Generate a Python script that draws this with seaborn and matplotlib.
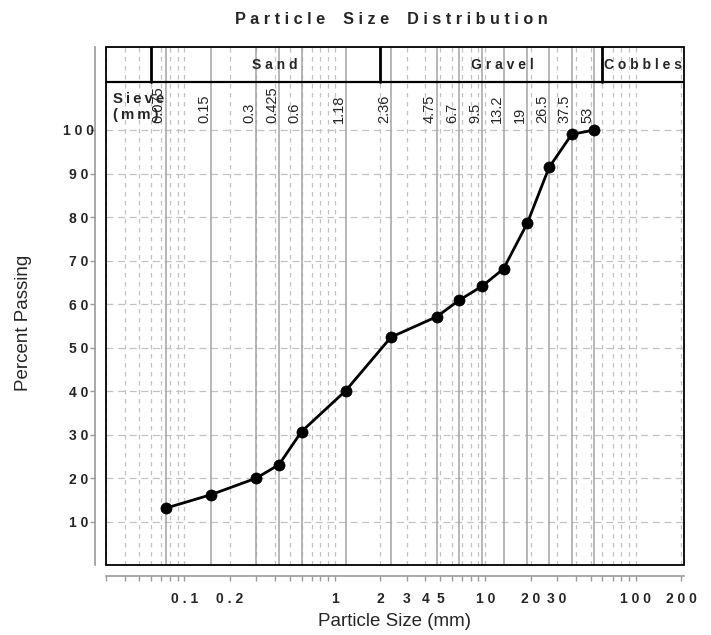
import numpy as np
import pandas as pd
import matplotlib
matplotlib.use("Agg")
import matplotlib.pyplot as plt
import matplotlib.ticker as mticker
import matplotlib.transforms as mtransforms
from matplotlib.patches import Rectangle
import seaborn as sns

# ---------------- data ----------------
sieve_mm = [0.075, 0.15, 0.3, 0.425, 0.6, 1.18, 2.36, 4.75, 6.7, 9.5, 13.2, 19, 26.5, 37.5, 53]
sieve_labels = ["0.075", "0.15", "0.3", "0.425", "0.6", "1.18", "2.36", "4.75",
                "6.7", "9.5", "13.2", "19", "26.5", "37.5", "53"]
percent_passing = [13.1, 16.2, 20.0, 23.1, 30.7, 40.1, 52.4, 57.1, 60.9, 64.1, 68.1,
                   78.6, 91.4, 99.0, 100.0]
soil_classes = ["Sand", "Gravel", "Cobbles"]
class_bounds = [0.06, 2, 60]
x_tick_values = [0.1, 0.2, 1, 2, 3, 4, 5, 10, 20, 30, 100, 200]
x_tick_labels = ["0.1", "0.2", "1", "2", "3", "4", "5", "10", "20", "30", "100", "200"]
y_tick_values = [10, 20, 30, 40, 50, 60, 70, 80, 90, 100]
y_tick_labels = ["10", "20", "30", "40", "50", "60", "70", "80", "90", "100"]

df = pd.DataFrame({"size": sieve_mm, "passing": percent_passing})


def spaced(s, sep=" "):
    return sep.join(s)


sns.set_style("white")
plt.rcParams["font.family"] = ["Liberation Sans", "DejaVu Sans"]

fig = plt.figure(figsize=(7.11, 6.35), dpi=100)
ax = fig.add_axes([0.1487, 0.1099, 0.8138, 0.8156])
ax.set_xscale("log")
XMIN, XMAX = 0.03, 210
YMIN, YMAX = 0, 119
BAND = 111
ax.set_xlim(XMIN, XMAX)
ax.set_ylim(YMIN, YMAX)

# all log tick positions (1..9 per decade)
tick_pos = []
for e in range(-2, 3):
    for m in range(1, 10):
        v = round(m * 10.0 ** e, 6)
        if XMIN - 1e-9 <= v <= 200 + 1e-9:
            tick_pos.append(v)
tick_lab = []
for v in tick_pos:
    lab = ""
    for tv, tl in zip(x_tick_values, x_tick_labels):
        if np.isclose(v, tv):
            lab = spaced(tl)
    tick_lab.append(lab)
ax.xaxis.set_major_locator(mticker.FixedLocator(tick_pos))
ax.xaxis.set_major_formatter(mticker.FixedFormatter(tick_lab))
ax.xaxis.set_minor_locator(mticker.NullLocator())

ax.set_yticks(y_tick_values, labels=[spaced(t) for t in y_tick_labels])

# grid
ax.grid(True, axis="x", which="major", color="#c2c2c2", lw=0.9, linestyle=(0, (3.6, 3.6)))
ax.grid(True, axis="y", which="major", color="#c2c2c2", lw=0.9, linestyle=(0, (5.5, 3.8)))
ax.set_axisbelow(True)

# sieve lines
for s in sieve_mm:
    ax.axvline(s, color="#a3a3a3", lw=1.1, zorder=1.5)

# data line
sns.lineplot(data=df, x="size", y="passing", ax=ax, color="black", linewidth=2.0,
             marker="o", markersize=8, markeredgecolor="black", markeredgewidth=0.5,
             zorder=5)
ax.set_xlabel("")
ax.set_ylabel("")

# band of soil classes
ax.axhline(BAND, color="black", lw=1.6, zorder=4)
for b in class_bounds:
    ax.plot([b, b], [BAND, YMAX], color="black", lw=2.0, zorder=4)
class_label_x = [0.40, 13.0, 112]
for name, xc in zip(soil_classes, class_label_x):
    ax.text(xc, 115.0, spaced(name), ha="center", va="center", fontsize=10,
            fontweight="bold", zorder=6)

# sieve labels
for s, lab in zip(sieve_mm, sieve_labels):
    ax.text(s, 101.6, lab, rotation=90, ha="right", va="bottom", fontsize=10.5, zorder=6)

trans = mtransforms.blended_transform_factory(ax.transAxes, ax.transData)
ax.text(0.0125, 105.3, spaced("Sieve", "\u2009") + "\n" + spaced("(mm)", "\u2009"),
        transform=trans, ha="left", va="center", fontsize=10.8, fontweight="bold",
        linespacing=1.15, zorder=6)

# frame
ax.add_patch(Rectangle((0, 0), 1, 1, transform=ax.transAxes, fill=False,
                       edgecolor="black", lw=1.3, clip_on=False, zorder=10))

# offset axes spines
for side in ["top", "right"]:
    ax.spines[side].set_visible(False)
for side in ["left", "bottom"]:
    ax.spines[side].set_visible(True)
    ax.spines[side].set_color("#9a9a9a")
    ax.spines[side].set_linewidth(1.2)
    ax.spines[side].set_position(("outward", 7.8))

ax.tick_params(axis="x", which="major", direction="out", length=3.6, width=1,
               color="#9a9a9a", pad=7.7, labelsize=10, bottom=True)
ax.tick_params(axis="y", which="major", direction="out", length=3.6, width=1,
               color="#9a9a9a", pad=7.9, labelsize=10, left=True)
for lbl in ax.get_xticklabels():
    lbl.set_fontweight("bold")
for lbl in ax.get_yticklabels():
    lbl.set_fontweight("bold")
    lbl.set_horizontalalignment("center")

# titles
fig.text(391 / 711, 1 - 20 / 635, spaced("Particle Size Distribution").replace("   ", "    "),
         ha="center", va="center", fontsize=11.7, fontweight="bold")
fig.text(395 / 711, 1 - 622 / 635, "Particle Size (mm)", ha="center", va="center", fontsize=13.5)
fig.text(24 / 711, 1 - 323 / 635, "Percent Passing", ha="center", va="center",
         fontsize=13.5, rotation=90)

fig.savefig("out.png", dpi=100)
